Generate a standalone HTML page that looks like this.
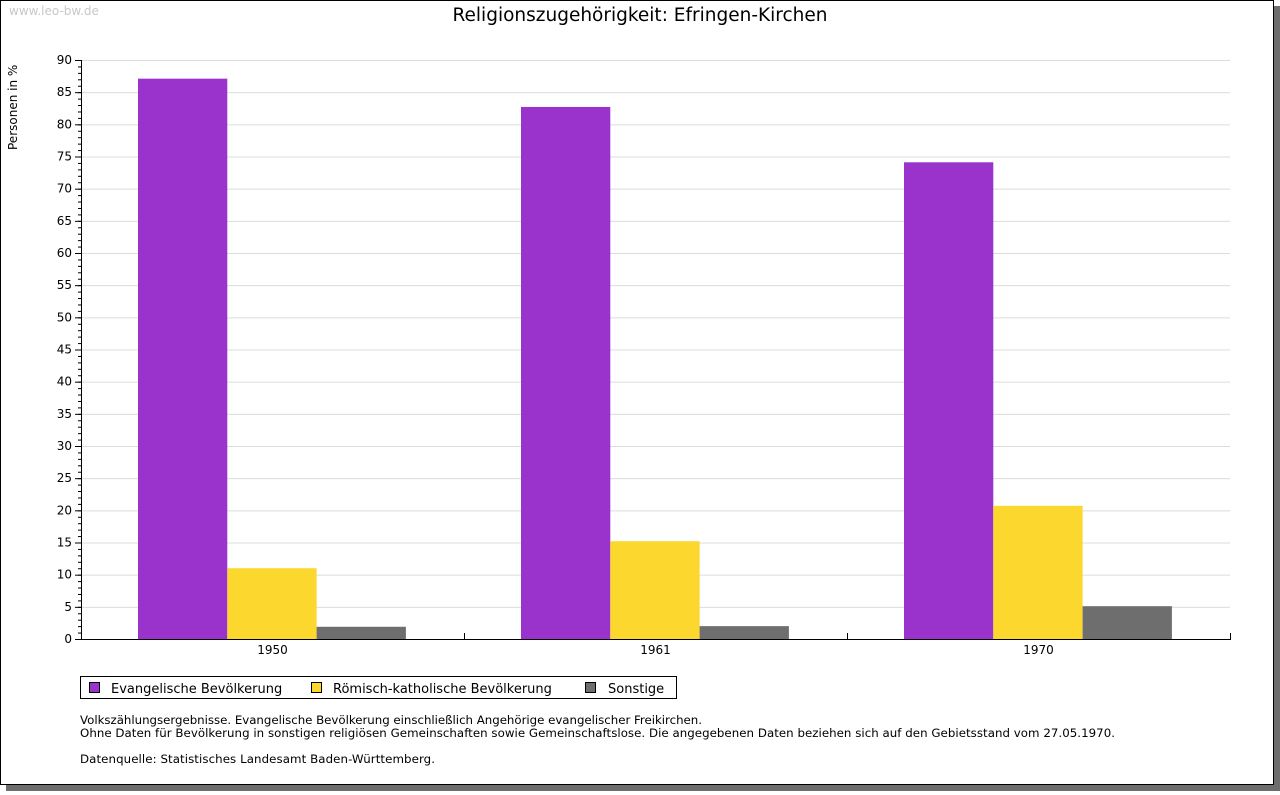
<!DOCTYPE html>
<html><head><meta charset="utf-8"><style>
body{margin:0;background:#fff;width:1280px;height:791px;overflow:hidden;font-family:"DejaVu Sans","Liberation Sans",sans-serif}
</style></head><body>
<svg width="1280" height="791" xmlns="http://www.w3.org/2000/svg" font-family="DejaVu Sans, Liberation Sans, sans-serif">
<rect x="6" y="6" width="1274" height="785" fill="#6e6e6e"/>
<rect x="0.5" y="0.5" width="1273" height="784" fill="#fff" stroke="#000"/>
<text x="9" y="15" font-size="12" fill="#c8c8c8">www.leo-bw.de</text>
<text x="640" y="21" font-size="18.5" text-anchor="middle">Religionszugehörigkeit: Efringen-Kirchen</text>
<text transform="translate(17,150) rotate(-90)" font-size="12">Personen in %</text>
<g id="grid"></g><g id="bars"></g><g id="axes"></g>
<g>
<rect x="80.5" y="676.5" width="596" height="22" fill="#fff" stroke="#000"/>
<rect x="89.5" y="682.5" width="10" height="10" fill="#9933cc" stroke="#000"/>
<text x="111" y="693" font-size="13">Evangelische Bevölkerung</text>
<rect x="311.5" y="682.5" width="10" height="10" fill="#fcd72d" stroke="#000"/>
<text x="333" y="693" font-size="13">Römisch-katholische Bevölkerung</text>
<rect x="585.5" y="682.5" width="10" height="10" fill="#6e6e6e" stroke="#000"/>
<text x="608" y="693" font-size="13">Sonstige</text>
</g>
<g font-size="11.8">
<text x="80" y="724" textLength="622">Volkszählungsergebnisse. Evangelische Bevölkerung einschließlich Angehörige evangelischer Freikirchen.</text>
<text x="80" y="737" textLength="1035">Ohne Daten für Bevölkerung in sonstigen religiösen Gemeinschaften sowie Gemeinschaftslose. Die angegebenen Daten beziehen sich auf den Gebietsstand vom 27.05.1970.</text>
<text x="80" y="763" textLength="355">Datenquelle: Statistisches Landesamt Baden-Württemberg.</text>
</g>
</svg>
<script>
const categories=["1950","1961","1970"];
const evangelisch=[87.1,82.7,74.1];
const katholisch=[11.0,15.2,20.7];
const sonstige=[1.9,2.0,5.1];
const yTicks=[0,5,10,15,20,25,30,35,40,45,50,55,60,65,70,75,80,85,90];
const NS="http://www.w3.org/2000/svg";
const X0=81,X1=1230,Y0=639,Y1=60,YMAX=90;
const y=v=>Y0-(v/YMAX)*(Y0-Y1);
const gw=(X1-X0)/categories.length;
function mk(t,a,p){const e=document.createElementNS(NS,t);for(const k in a)e.setAttribute(k,a[k]);p.appendChild(e);return e;}
const grid=document.getElementById('grid'),bars=document.getElementById('bars'),axes=document.getElementById('axes');
yTicks.forEach(v=>{
 if(v>0){const l=mk('line',{x1:X0,x2:X1,y1:y(v)+0.5,y2:y(v)+0.5,stroke:'#dcdcdc'},grid);
 
 }
 const t=mk('text',{x:X0-9,y:y(v)+4,'font-size':12,'text-anchor':'end'},axes);t.textContent=v;
 
 
 mk('line',{x1:X0-6,x2:X0,y1:y(v)+0.5,y2:y(v)+0.5,stroke:'#000'},axes);
});
for(let v=0;v<YMAX;v++){mk('line',{x1:X0-3,x2:X0,y1:y(v)+0.5,y2:y(v)+0.5,stroke:'#000'},axes);}
const series=[[evangelisch,'#9933cc','evangelisch'],[katholisch,'#fcd72d','katholisch'],[sonstige,'#6e6e6e','sonstige']];
const bw=89.3,off=57;
categories.forEach((c,i)=>{
 series.forEach((s,j)=>{
  const v=s[0][i];
  const r=mk('rect',{x:X0+i*gw+off+j*bw,y:y(v),width:bw,height:Y0-y(v),fill:s[1]},bars);
  
  
 });
 const t=mk('text',{x:X0+i*gw+gw/2,y:Y0+15,'font-size':12,'text-anchor':'middle'},axes);t.textContent=c;
 
 
 mk('line',{x1:Math.round(X0+(i+1)*gw)+0.5,x2:Math.round(X0+(i+1)*gw)+0.5,y1:Y0,y2:Y0-6,stroke:'#000'},axes);
});
const ya=mk('line',{x1:X0+0.5,x2:X0+0.5,y1:Y1,y2:Y0+1,stroke:'#000'},axes);


const xa=mk('line',{x1:X0,x2:X1+1,y1:Y0+0.5,y2:Y0+0.5,stroke:'#000'},axes);


</script>
</body></html>
